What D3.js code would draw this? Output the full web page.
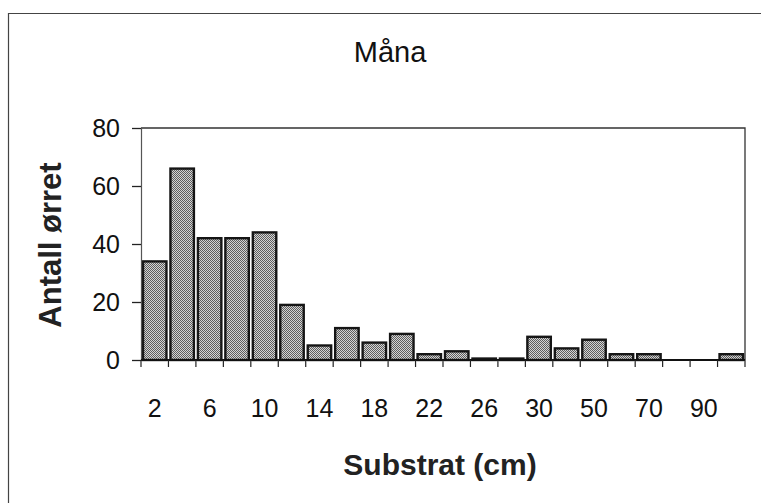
<!DOCTYPE html>
<html>
<head>
<meta charset="utf-8">
<script src="https://cdn.jsdelivr.net/npm/d3@7"></script>
<style>
  html, body { margin: 0; padding: 0; background: #fff; }
  svg { display: block; font-family: "Liberation Sans", Arial, Helvetica, sans-serif; }
</style>
</head>
<body>
<svg id="chart" width="761" height="503"></svg>
<script>
// Substrate size classes (cm) and trout counts per class
const categories = ["2","4","6","8","10","12","14","16","18","20","22","24","26","28","30","40","50","60","70","80","90","100"];
const counts     = [34, 66, 42, 42, 44, 19, 5, 11, 6, 9, 2, 3, 0.5, 0.5, 8, 4, 7, 2, 2, 0, 0, 2];
const xTickLabels = ["2","6","10","14","18","22","26","30","50","70","90"];
const yTicks = [0, 20, 40, 60, 80];

const title = "Måna";
const xTitle = "Substrat (cm)";
const yTitle = "Antall ørret";

const svg = d3.select("#chart");
const plot = { left: 141, right: 745, top: 128, bottom: 360 };

// stippled fill for the bars
const defs = svg.append("defs");
const pat = defs.append("pattern")
  .attr("id", "stipple")
  .attr("width", 2).attr("height", 2)
  .attr("patternUnits", "userSpaceOnUse");
pat.append("rect").attr("width", 2).attr("height", 2).attr("fill", "#d4d4d4");
pat.append("rect").attr("x", 0).attr("y", 0).attr("width", 1).attr("height", 1).attr("fill", "#5e5e5e");
pat.append("rect").attr("x", 1).attr("y", 1).attr("width", 1).attr("height", 1).attr("fill", "#5e5e5e");

// outer frame (top and left edges)
svg.append("path")
  .attr("d", "M8.5,503 L8.5,13.5 L761,13.5")
  .attr("fill", "none")
  .attr("stroke", "#444")
  .attr("stroke-width", 1.2);

const x = d3.scaleBand()
  .domain(categories)
  .range([plot.left, plot.right])
  .paddingInner(0)
  .paddingOuter(0);

const y = d3.scaleLinear()
  .domain([0, 80])
  .range([plot.bottom, plot.top]);

// plot frame: top and right sides
svg.append("path")
  .attr("d", `M${plot.left},${plot.top} L${plot.right},${plot.top} L${plot.right},${plot.bottom}`)
  .attr("fill", "none")
  .attr("stroke", "#333")
  .attr("stroke-width", 1.3);

// bars
const inset = 2;
svg.append("g")
  .selectAll("rect")
  .data(categories.map((c, i) => ({ c, v: counts[i] })).filter(d => d.v > 0))
  .join("rect")
  .attr("x", d => x(d.c) + inset)
  .attr("width", x.bandwidth() - 2 * inset)
  .attr("y", d => y(d.v))
  .attr("height", d => y(0) - y(d.v))
  .attr("fill", "url(#stipple)")
  .attr("stroke", "#151515")
  .attr("stroke-width", 2.4);

// y axis
const yAxis = svg.append("g")
  .attr("transform", `translate(${plot.left},0)`)
  .call(d3.axisLeft(y).tickValues(yTicks).tickSize(9).tickPadding(12).tickFormat(d3.format("d")));
yAxis.select(".domain").attr("stroke", "#555").attr("stroke-width", 1.2);
yAxis.selectAll(".tick line").attr("stroke", "#222").attr("stroke-width", 1.3);
yAxis.selectAll(".tick text")
  .attr("font-size", 25)
  .attr("fill", "#111")
  .attr("font-family", "Liberation Sans, Arial, sans-serif");

// x axis baseline and boundary ticks
const boundaries = categories.map(c => x(c)).concat([plot.right]);
svg.append("line")
  .attr("x1", plot.left).attr("x2", plot.right)
  .attr("y1", plot.bottom).attr("y2", plot.bottom)
  .attr("stroke", "#111").attr("stroke-width", 2);
svg.append("g")
  .selectAll("line")
  .data(boundaries)
  .join("line")
  .attr("x1", d => d).attr("x2", d => d)
  .attr("y1", plot.bottom).attr("y2", plot.bottom + 7)
  .attr("stroke", "#222").attr("stroke-width", 1.2);

// x tick labels on every other class
const xAxis = svg.append("g")
  .attr("transform", `translate(0,${plot.bottom})`)
  .call(d3.axisBottom(x).tickValues(xTickLabels).tickSize(0).tickPadding(39));
xAxis.select(".domain").remove();
xAxis.selectAll(".tick text")
  .attr("font-size", 25)
  .attr("fill", "#111")
  .attr("font-family", "Liberation Sans, Arial, sans-serif");

// titles
svg.append("text")
  .attr("x", 390).attr("y", 62)
  .attr("text-anchor", "middle")
  .attr("font-size", 29)
  .attr("fill", "#111")
  .text(title);

svg.append("text")
  .attr("x", 440).attr("y", 475)
  .attr("text-anchor", "middle")
  .attr("font-size", 30)
  .attr("font-weight", "bold")
  .attr("fill", "#222")
  .text(xTitle);

svg.append("text")
  .attr("transform", "translate(61,245) rotate(-90)")
  .attr("text-anchor", "middle")
  .attr("font-size", 31)
  .attr("font-weight", "bold")
  .attr("fill", "#222")
  .text(yTitle);
</script>
</body>
</html>
